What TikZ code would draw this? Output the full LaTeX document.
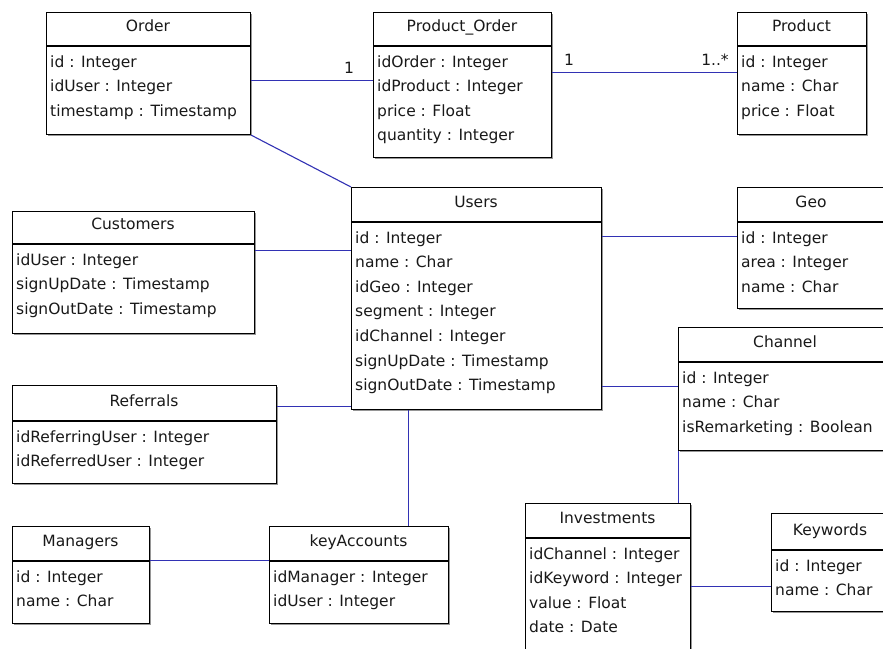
\documentclass[tikz,border=0pt]{standalone}
\usepackage{fontspec}
\setmainfont{DejaVu Sans}
\definecolor{conncol}{RGB}{50,50,180}
\definecolor{shadowcol}{RGB}{150,150,150}
\tikzset{
  clsbox/.style={draw=black, fill=white, line width=1.1pt, inner sep=0pt, anchor=north west},
  sepline/.style={draw=black, line width=1.1pt},
  clsshadow/.style={fill=shadowcol},
  txt/.style={font=\fontsize{15.5}{18}\selectfont, inner sep=0pt, text=black!90},
  conn/.style={draw=conncol, line width=1.1pt},
}
% #1 name, #2 x1, #3 y1, #4 x2, #5 y2, #6 header y, #7 title, #8 rows
\newcommand\umlcls[8]{%
  \fill[clsshadow] (#2+2,#3+2) rectangle (#4+2,#5+2);
  \node[clsbox, minimum width={(#4-#2)*1pt}, minimum height={(#5-#3)*1pt}] (#1) at (#2,#3) {};
  \draw[sepline] (#2,#6) -- (#4,#6);
  \node[txt, anchor=base] (#1-title) at ({(#2+#4)/2},#6-15) {#7};
  \foreach \t [count=\i] in {#8} {
    \node[txt, anchor=base west] (#1-row\i) at (#2+4,{#6+21+(\i-1)*24.6}) {\t};
  }%
}
\begin{document}
\begin{tikzpicture}[x=1pt,y=-1pt]
\useasboundingbox (0,0) rectangle (883,648);
\clip (0,0) rectangle (883,648);
\fill[white] (0,0) rectangle (883,648);

\coordinate (c1) at (0,80.5);
\coordinate (c2) at (0,72.5);
\coordinate (c4) at (0,250.5);
\coordinate (c5) at (0,236.5);
\coordinate (c6) at (0,386.5);
\coordinate (c7) at (0,406.5);
\coordinate (c8) at (408.5,0);
\coordinate (c9) at (0,560.5);
\coordinate (c10) at (678.5,0);
\coordinate (c11) at (0,586.5);

\umlcls{order}{46}{12}{250}{134}{46}{Order}{id : Integer, idUser : Integer, timestamp : Timestamp}
\umlcls{po}{373}{12}{551}{157}{46}{Product\_Order}{idOrder : Integer, idProduct : Integer, price : Float, quantity : Integer}
\umlcls{product}{737}{12}{866}{134}{46}{Product}{id : Integer, name : Char, price : Float}
\umlcls{customers}{12}{211}{254}{333}{244}{Customers}{idUser : Integer, signUpDate : Timestamp, signOutDate : Timestamp}
\umlcls{users}{351}{187}{601}{409}{222}{Users}{id : Integer, name : Char, idGeo : Integer, segment : Integer, idChannel : Integer, signUpDate : Timestamp, signOutDate : Timestamp}
\umlcls{geo}{737}{187}{885}{308}{222}{Geo}{id : Integer, area : Integer, name : Char}
\umlcls{channel}{678}{327}{892}{450}{362}{Channel}{id : Integer, name : Char, isRemarketing : Boolean}
\umlcls{referrals}{12}{385}{276}{483}{421}{Referrals}{idReferringUser : Integer, idReferredUser : Integer}
\umlcls{managers}{12}{526}{149}{623}{561}{Managers}{id : Integer, name : Char}
\umlcls{keyacc}{269}{526}{448}{623}{561}{keyAccounts}{idManager : Integer, idUser : Integer}
\umlcls{invest}{525}{503}{690}{670}{538}{Investments}{idChannel : Integer, idKeyword : Integer, value : Float, date : Date}
\umlcls{keywords}{771}{513}{889}{611}{550}{Keywords}{id : Integer, name : Char}

% connectors
\draw[conn] (order.east |- c1) -- (po.west |- c1);
\draw[conn] (po.east |- c2) -- (product.west |- c2);
\draw[conn] (order.south east) -- (users.north west);
\draw[conn] (customers.east |- c4) -- (users.west |- c4);
\draw[conn] (users.east |- c5) -- (geo.west |- c5);
\draw[conn] (users.east |- c6) -- (channel.west |- c6);
\draw[conn] (referrals.east |- c7) -- (users.west |- c7);
\draw[conn] (users.south -| c8) -- (keyacc.north -| c8);
\draw[conn] (managers.east |- c9) -- (keyacc.west |- c9);
\draw[conn] (channel.south -| c10) -- (invest.north -| c10);
\draw[conn] (invest.east |- c11) -- (keywords.west |- c11);

% multiplicities
\node[txt, anchor=base] (m1) at (349,73) {1};
\node[txt, anchor=base] (m2) at (569,65) {1};
\node[txt, anchor=base] (m3) at (715,65) {1..*};
\end{tikzpicture}
\end{document}
